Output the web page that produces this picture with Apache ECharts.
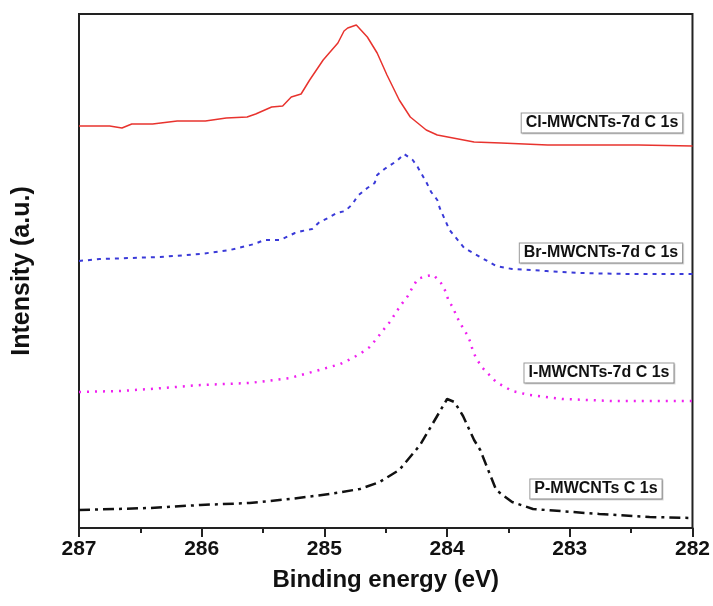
<!DOCTYPE html>
<html>
<head>
<meta charset="utf-8">
<script src="https://cdn.jsdelivr.net/npm/echarts@6/dist/echarts.min.js"></script>
<style>
  html, body { margin: 0; padding: 0; background: #fff; }
  #chart { width: 713px; height: 606px; }
</style>
</head>
<body>
<div id="chart"></div>
<script>
// 数据：[结合能 eV, 强度 a.u.]，各曲线已按图中位置错开
var clData = [
  [287.0, 402], [286.75, 402], [286.65, 400], [286.57, 404], [286.4, 404], [286.2, 407],
  [285.97, 407], [285.8, 410], [285.63, 411], [285.56, 414], [285.43, 421], [285.34, 422],
  [285.27, 431], [285.19, 434], [285.12, 448], [285.01, 468], [284.89, 485], [284.84, 497],
  [284.81, 500], [284.74, 503], [284.65, 491], [284.57, 475], [284.49, 453], [284.39, 428],
  [284.3, 411], [284.24, 405], [284.17, 398], [284.08, 393], [283.78, 386], [283.56, 385],
  [283.18, 383], [282.81, 383], [282.44, 383], [282.0, 382]
]
var brData = [
  [287.0, 267], [286.83, 269], [286.58, 270], [286.34, 271], [286.01, 274], [285.77, 278],
  [285.57, 284], [285.49, 288], [285.36, 288], [285.24, 295], [285.18, 297], [285.1, 299],
  [285.04, 306], [284.97, 310], [284.9, 315], [284.83, 317], [284.77, 324], [284.73, 332],
  [284.65, 340], [284.59, 345], [284.57, 353], [284.51, 359], [284.41, 367], [284.35, 374],
  [284.28, 368], [284.24, 361], [284.17, 346], [284.13, 336], [284.08, 328], [284.06, 320],
  [283.98, 298], [283.86, 280], [283.73, 271], [283.6, 262], [283.47, 259], [283.19, 257],
  [282.92, 255], [282.51, 254], [282.0, 254]
]
var iData = [
  [287.0, 136], [286.67, 137], [286.42, 139], [286.01, 143], [285.61, 145], [285.28, 150],
  [285.04, 158], [284.87, 164], [284.77, 170], [284.7, 175], [284.63, 181], [284.57, 190],
  [284.52, 198], [284.46, 207], [284.42, 215], [284.37, 224], [284.32, 232], [284.28, 241],
  [284.24, 249], [284.17, 252], [284.11, 253], [284.05, 245], [284.01, 236], [283.99, 228],
  [283.95, 220], [283.92, 211], [283.88, 202], [283.84, 194], [283.81, 186], [283.79, 177],
  [283.76, 169], [283.71, 160], [283.6, 146], [283.47, 137], [283.33, 133], [283.06, 129],
  [282.65, 127], [282.0, 127]
]
var pData = [
  [287.0, 18], [286.42, 20], [286.01, 23], [285.61, 25], [285.28, 29], [284.96, 34],
  [284.71, 39], [284.55, 46], [284.39, 58], [284.22, 83], [284.1, 108], [284.0, 129],
  [283.94, 126], [283.87, 112], [283.78, 88], [283.73, 78], [283.6, 38], [283.47, 26],
  [283.3, 19], [282.76, 14], [282.35, 11], [282.0, 10]
]
var xTicks = [282, 283, 284, 285, 286, 287]
var labels = ['Cl-MWCNTs-7d C 1s', 'Br-MWCNTs-7d C 1s', 'I-MWCNTs-7d C 1s', 'P-MWCNTs C 1s']

var FONT = '"Liberation Sans", Arial, sans-serif'
var chart = echarts.init(document.getElementById('chart'))

function boxLabel (text, x, y) {
  return {
    type: 'text',
    x: x,
    y: y,
    style: {
      text: text,
      font: 'bold 16px ' + FONT,
      fill: '#111',
      align: 'center',
      verticalAlign: 'middle',
      backgroundColor: '#fff',
      borderColor: '#999',
      borderWidth: 1,
      padding: [2, 4, 1, 4],
      shadowColor: 'rgba(0,0,0,0.15)',
      shadowOffsetX: 1,
      shadowOffsetY: 1
    },
    z: 100
  }
}

chart.setOption({
  animation: false,
  grid: {
    left: 79,
    top: 14,
    right: 20,
    bottom: 78,
    show: true,
    borderColor: '#222',
    borderWidth: 2
  },
  xAxis: {
    type: 'value',
    min: xTicks[0],
    max: xTicks[xTicks.length - 1],
    interval: 1,
    inverse: true,
    name: 'Binding energy (eV)',
    nameLocation: 'middle',
    nameGap: 40,
    nameTextStyle: {
      fontFamily: FONT,
      fontWeight: 'bold',
      fontSize: 24,
      color: '#111'
    },
    axisLine: { lineStyle: { color: '#222', width: 2 } },
    axisTick: { show: true, length: 9, lineStyle: { color: '#222', width: 2 } },
    minorTick: { show: true, splitNumber: 2, length: 5, lineStyle: { color: '#222', width: 2 } },
    splitLine: { show: false },
    axisLabel: {
      margin: 11,
      fontFamily: FONT,
      fontWeight: 'bold',
      fontSize: 21,
      color: '#111'
    }
  },
  yAxis: {
    type: 'value',
    min: 0,
    max: 514,
    name: 'Intensity (a.u.)',
    nameLocation: 'middle',
    nameGap: 44,
    nameTextStyle: {
      fontFamily: FONT,
      fontWeight: 'bold',
      fontSize: 25,
      color: '#111'
    },
    axisLine: { show: true, lineStyle: { color: '#222', width: 2 } },
    axisTick: { show: false },
    axisLabel: { show: false },
    splitLine: { show: false }
  },
  series: [
    {
      name: labels[0],
      type: 'line',
      data: clData,
      symbol: 'none',
      lineStyle: { color: '#e8332e', width: 1.5 }
    },
    {
      name: labels[1],
      type: 'line',
      data: brData,
      symbol: 'none',
      lineStyle: { color: '#3a3ad8', width: 2, type: [4, 5] }
    },
    {
      name: labels[2],
      type: 'line',
      data: iData,
      symbol: 'none',
      lineStyle: { color: '#f020f0', width: 2.5, type: [2, 6] }
    },
    {
      name: labels[3],
      type: 'line',
      data: pData,
      symbol: 'none',
      lineStyle: { color: '#111', width: 2.5, type: [11, 5, 3, 5] }
    }
  ],
  graphic: [
    boxLabel(labels[0], 602, 123),
    boxLabel(labels[1], 601, 253),
    boxLabel(labels[2], 599, 373),
    boxLabel(labels[3], 596, 489)
  ]
})
</script>
</body>
</html>
